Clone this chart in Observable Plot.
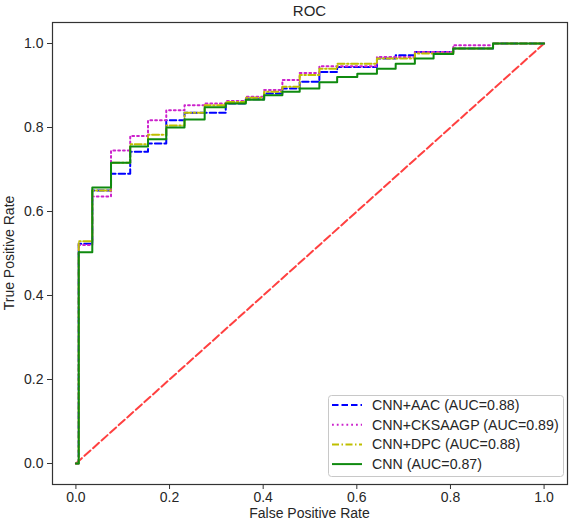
<!DOCTYPE html>
<html><head><meta charset="utf-8">
<script src="https://cdn.jsdelivr.net/npm/d3@7"></script>
<script src="https://cdn.jsdelivr.net/npm/@observablehq/plot@0.6"></script>
<style>body{margin:0;background:#fff}</style>
</head><body><div id="chart"></div>
<script>
// False positive rates at which the ROC curves step up (shared by the four models)
const fprSteps   = [0, 0.006, 0.035, 0.075, 0.116, 0.154, 0.193, 0.232, 0.275, 0.320, 0.363, 0.402, 0.441, 0.478, 0.520, 0.558, 0.601, 0.643, 0.683, 0.724, 0.764, 0.806, 0.891, 1.0];
// True positive rate reached after each step
const tprAAC      = [0, 0.523, 0.650, 0.690, 0.742, 0.762, 0.817, 0.835, 0.835, 0.857, 0.867, 0.881, 0.893, 0.909, 0.932, 0.944, 0.944, 0.964, 0.972, 0.980, 0.980, 0.988, 1.0, 1.0];
const tprCKSAAGP  = [0, 0.520, 0.636, 0.745, 0.780, 0.817, 0.841, 0.853, 0.857, 0.863, 0.873, 0.889, 0.913, 0.930, 0.946, 0.946, 0.946, 0.968, 0.968, 0.980, 0.980, 0.996, 1.0, 1.0];
const tprDPC      = [0, 0.529, 0.650, 0.716, 0.760, 0.783, 0.805, 0.835, 0.853, 0.861, 0.871, 0.885, 0.897, 0.925, 0.940, 0.952, 0.952, 0.964, 0.964, 0.976, 0.976, 0.988, 1.0, 1.0];
const tprCNN      = [0, 0.503, 0.657, 0.716, 0.755, 0.772, 0.800, 0.819, 0.848, 0.857, 0.866, 0.877, 0.885, 0.893, 0.908, 0.920, 0.928, 0.940, 0.952, 0.964, 0.975, 0.988, 1.0, 1.0];

const seriesNames  = ["CNN+AAC (AUC=0.88)", "CNN+CKSAAGP (AUC=0.89)", "CNN+DPC (AUC=0.88)", "CNN (AUC=0.87)"];
const seriesTpr    = [tprAAC, tprCKSAAGP, tprDPC, tprCNN];
const seriesColors = ["#0000ff", "#cc22cc", "#bfbf00", "#0f8a0f"];
const seriesDashes = ["6.5,3", "1.8,3", "7,2.5,1.5,2.5", null];

const diagonalFpr = [0, 1];
const diagonalTpr = [0, 1];
const axisTicks = [0, 0.2, 0.4, 0.6, 0.8, 1.0];

const W = 574, H = 523;
const mL = 52, mR = 7, mT = 22, mB = 39;

const diag = diagonalFpr.map((x, i) => ({x, y: diagonalTpr[i]}));
const lineMarks = seriesNames.map((name, s) =>
  Plot.line(fprSteps.map((x, i) => ({x, y: seriesTpr[s][i]})), {
    x: "x", y: "y", curve: "step-after",
    stroke: seriesColors[s], strokeWidth: 2,
    strokeDasharray: seriesDashes[s] || undefined
  })
);

const svg = Plot.plot({
  width: W, height: H,
  marginLeft: mL, marginRight: mR, marginTop: mT, marginBottom: mB,
  style: {fontFamily: "Liberation Sans, Arial, sans-serif", fontSize: "14px", color: "#262626", background: "white"},
  x: {domain: [-0.05, 1.05]},
  y: {domain: [-0.05, 1.05]},
  marks: [
    Plot.line(diag, {x: "x", y: "y", stroke: "#ff4040", strokeWidth: 2, strokeDasharray: "8,3.5"}),
    ...lineMarks,
    Plot.axisX(axisTicks, {tickFormat: d => d.toFixed(1), tickSize: 5, tickPadding: 3, label: null, fontSize: 14, stroke: "#333"}),
    Plot.axisY(axisTicks, {tickFormat: d => d.toFixed(1), tickSize: 5, tickPadding: 4, label: null, fontSize: 14, stroke: "#333"}),
    Plot.frame({stroke: "#333", strokeWidth: 1.2})
  ]
});

const g = d3.select(svg);
const font = "Liberation Sans, Arial, sans-serif";
const cx = (mL + (W - mR)) / 2;
g.append("text").attr("x", cx).attr("y", 16).attr("text-anchor", "middle")
  .attr("font-size", 15).attr("font-family", font).attr("fill", "#262626").text("ROC");
g.append("text").attr("x", cx).attr("y", 518).attr("text-anchor", "middle")
  .attr("font-size", 14).attr("font-family", font).attr("fill", "#262626").text("False Positive Rate");
g.append("text").attr("transform", `translate(14,${(mT + H - mB) / 2}) rotate(-90)`).attr("text-anchor", "middle")
  .attr("font-size", 14).attr("font-family", font).attr("fill", "#262626").text("True Positive Rate");

// legend
const lg = g.append("g").attr("text-anchor", "start");
lg.append("rect").attr("x", 328.5).attr("y", 395.5).attr("width", 235).attr("height", 81)
  .attr("rx", 3).attr("fill", "white").attr("fill-opacity", 0.85)
  .attr("stroke", "#c8c8c8").attr("stroke-width", 1);
seriesNames.forEach((name, s) => {
  const y = 405 + s * 19.7;
  lg.append("line").attr("x1", 332).attr("x2", 362).attr("y1", y).attr("y2", y)
    .attr("stroke", seriesColors[s]).attr("stroke-width", 2)
    .attr("stroke-dasharray", seriesDashes[s] || null);
  lg.append("text").attr("x", 372).attr("y", y).attr("dy", "0.35em").attr("text-anchor", "start")
    .attr("font-size", 14.2).attr("font-family", font).attr("fill", "#262626").text(name);
});

document.getElementById("chart").appendChild(svg);
</script>
</body></html>
